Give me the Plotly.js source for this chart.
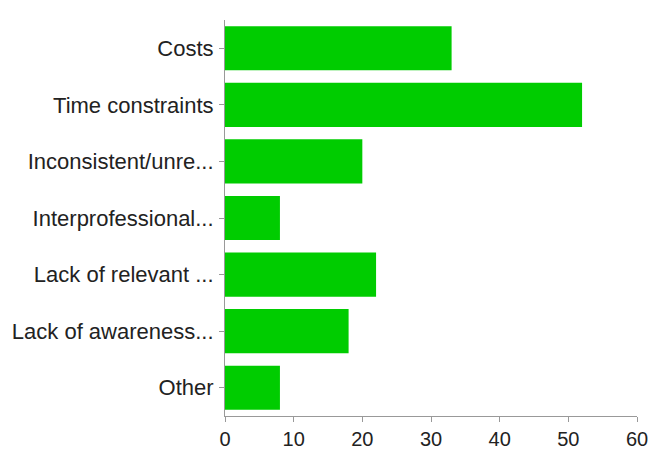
<!DOCTYPE html>
<html>
<head>
<meta charset="utf-8">
<script src="https://cdn.plot.ly/plotly-3.0.1.min.js"></script>
<style>html,body{margin:0;padding:0;background:#fff;}#chart{width:650px;height:449px;}</style>
</head>
<body>
<div id="chart"></div>
<script>
var categories = ["Costs", "Time constraints", "Inconsistent/unre...", "Interprofessional...", "Lack of relevant ...", "Lack of awareness...", "Other"];
var counts = [33, 52, 20, 8, 22, 18, 8];
var xTicks = [0, 10, 20, 30, 40, 50, 60];

var trace = {
  type: 'bar',
  orientation: 'h',
  y: categories,
  x: counts,
  marker: {color: '#00cc00', line: {width: 0}},
  hoverinfo: 'x+y'
};

var layout = {
  width: 650,
  height: 449,
  margin: {l: 225, r: 13, t: 20, b: 33, pad: 0},
  paper_bgcolor: '#ffffff',
  plot_bgcolor: '#ffffff',
  showlegend: false,
  bargap: 0.22,
  font: {family: '"Liberation Sans", Arial, sans-serif', color: '#222222', size: 22},
  xaxis: {
    range: [0, 60],
    tickvals: xTicks,
    ticktext: xTicks.map(String),
    showgrid: false,
    zeroline: false,
    showline: true,
    linecolor: '#999999',
    linewidth: 1,
    ticks: 'outside',
    ticklen: 5,
    tickcolor: '#999999',
    ticklabelstandoff: 0,
    tickfont: {size: 20, color: '#222222'}
  },
  yaxis: {
    type: 'category',
    autorange: 'reversed',
    showgrid: false,
    zeroline: false,
    showline: true,
    linecolor: '#999999',
    linewidth: 1,
    ticks: 'outside',
    ticklen: 5,
    tickcolor: '#999999',
    ticklabelstandoff: 1,
    tickfont: {size: 22, color: '#222222'}
  }
};

Plotly.newPlot('chart', [trace], layout, {displayModeBar: false, staticPlot: true});
</script>
</body>
</html>
